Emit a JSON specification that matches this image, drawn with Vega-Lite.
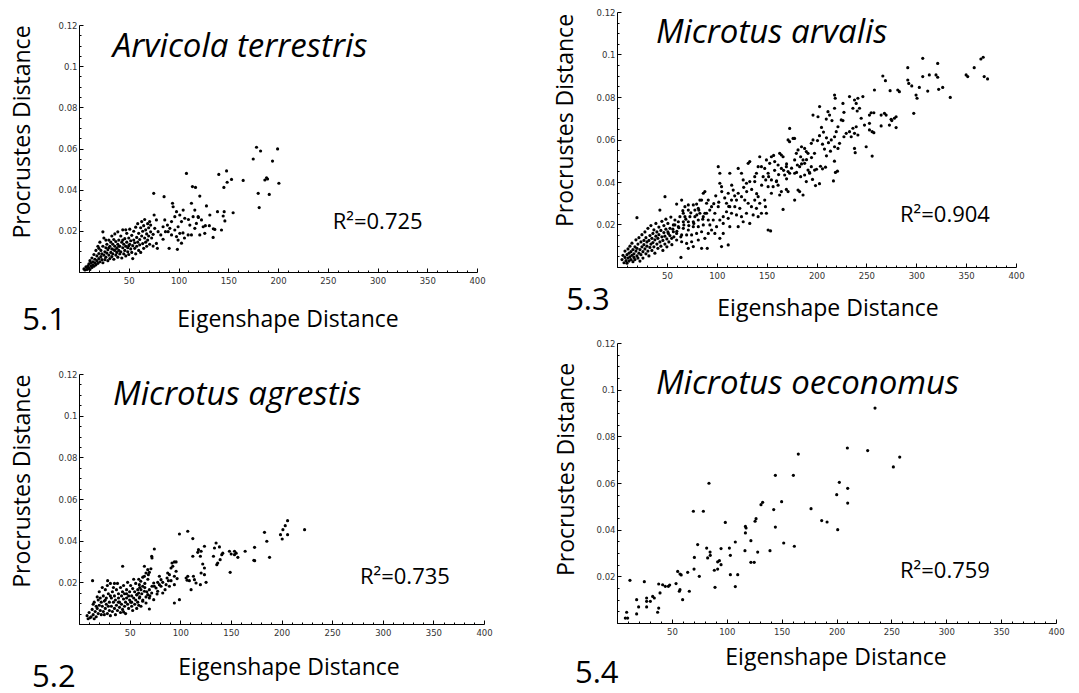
{
"$schema": "https://vega.github.io/schema/vega-lite/v6.json",
"background": "white",
"padding": {"left": 10, "top": 8, "right": 0, "bottom": 0},
"config": {
  "view": {"stroke": null},
  "axis": {"grid": false, "domainColor": "#000", "tickColor": "#000", "labelFont": "DejaVu Sans", "labelFontSize": 8.5, "labelColor": "#333", "titleFont": "Open Sans", "titleFontSize": 23, "titleFontWeight": "normal", "titleColor": "#000", "labelFlush": false, "labelOverlap": false}
},
"datasets": {
"d51": [
{"x":178.4,"y":0.0606},{"x":182.5,"y":0.0588},{"x":199.6,"y":0.0598},{"x":175.1,"y":0.0549},{"x":194.5,"y":0.0539},{"x":188.5,"y":0.0458},{"x":186.8,"y":0.0447},{"x":189.5,"y":0.0452},{"x":200.9,"y":0.0431},{"x":180.1,"y":0.0382},{"x":191.2,"y":0.0377},{"x":181.1,"y":0.0313},{"x":165,"y":0.0445},{"x":153.3,"y":0.045},{"x":148.3,"y":0.0491},{"x":140.5,"y":0.0474},{"x":148.9,"y":0.0436},{"x":145.6,"y":0.0411},{"x":154.9,"y":0.0288},{"x":145.9,"y":0.0293},{"x":144.9,"y":0.0272},{"x":146.6,"y":0.0248},{"x":143.2,"y":0.0204},{"x":134.8,"y":0.0168},{"x":136.5,"y":0.0207},{"x":139.2,"y":0.0293},{"x":131.5,"y":0.0277},{"x":128.1,"y":0.0321},{"x":121.4,"y":0.0369},{"x":114,"y":0.0415},{"x":117.1,"y":0.0411},{"x":108,"y":0.0479},{"x":113,"y":0.0334},{"x":116.4,"y":0.0301},{"x":119.7,"y":0.0269},{"x":123.1,"y":0.0253},{"x":124.8,"y":0.022},{"x":118,"y":0.0236},{"x":114.7,"y":0.0269},{"x":111.4,"y":0.0228},{"x":109.7,"y":0.018},{"x":113,"y":0.018},{"x":121.4,"y":0.018},{"x":126.4,"y":0.0188},{"x":116.4,"y":0.0212},{"x":104.7,"y":0.0301},{"x":101.3,"y":0.0277},{"x":106.3,"y":0.0261},{"x":103,"y":0.0245},{"x":99.6,"y":0.022},{"x":96.3,"y":0.0204},{"x":101.3,"y":0.0188},{"x":98,"y":0.0172},{"x":93,"y":0.018},{"x":99.6,"y":0.0155},{"x":96.3,"y":0.0269},{"x":98,"y":0.0293},{"x":94,"y":0.0334},{"x":94.6,"y":0.0317},{"x":93,"y":0.0245},{"x":91.3,"y":0.0212},{"x":89.6,"y":0.0196},{"x":88.9,"y":0.0228},{"x":86.2,"y":0.0253},{"x":84.5,"y":0.022},{"x":86.9,"y":0.0196},{"x":82.2,"y":0.018},{"x":84.5,"y":0.0159},{"x":90.6,"y":0.0115},{"x":98.9,"y":0.011},{"x":79.5,"y":0.0196},{"x":77.8,"y":0.0253},{"x":75.5,"y":0.0277},{"x":76.1,"y":0.0212},{"x":74.5,"y":0.0183},{"x":77.8,"y":0.0139},{"x":78.8,"y":0.0115},{"x":74.5,"y":0.0126},{"x":75.1,"y":0.0382},{"x":85.5,"y":0.0366},{"x":103,"y":0.014},{"x":106,"y":0.0165},{"x":104.5,"y":0.019},{"x":120,"y":0.0265},{"x":127,"y":0.0225},{"x":110,"y":0.0255},{"x":131,"y":0.0225},{"x":135,"y":0.021},
{"x":5,"y":0.0015},{"x":6,"y":0.001},{"x":7,"y":0.0025},{"x":8,"y":0.0012},{"x":9,"y":0.003},{"x":9,"y":0.0018},{"x":10,"y":0.004},{"x":10,"y":0.002},{"x":11,"y":0.0055},{"x":11,"y":0.0012},{"x":12,"y":0.003},{"x":12,"y":0.0045},{"x":13,"y":0.0022},{"x":13,"y":0.0068},{"x":14,"y":0.0035},{"x":14,"y":0.005},{"x":15,"y":0.0028},{"x":15,"y":0.0085},{"x":16,"y":0.0045},{"x":16,"y":0.0062},{"x":17,"y":0.0035},{"x":17,"y":0.0105},{"x":18,"y":0.0055},{"x":18,"y":0.0078},{"x":19,"y":0.0042},{"x":19,"y":0.0125},{"x":20,"y":0.0065},{"x":20,"y":0.009},{"x":21,"y":0.005},{"x":21,"y":0.0145},{"x":22,"y":0.0075},{"x":22,"y":0.0105},{"x":23,"y":0.006},{"x":23,"y":0.0088},{"x":24,"y":0.0125},{"x":24,"y":0.0045},{"x":25,"y":0.0165},{"x":25,"y":0.0082},{"x":26,"y":0.0098},{"x":26,"y":0.006},{"x":27,"y":0.0118},{"x":27,"y":0.0072},{"x":28,"y":0.0135},{"x":28,"y":0.0092},{"x":29,"y":0.0055},{"x":29,"y":0.0108},{"x":30,"y":0.0155},{"x":30,"y":0.0082},{"x":31,"y":0.0125},{"x":31,"y":0.0065},{"x":32,"y":0.0095},{"x":32,"y":0.0145},{"x":33,"y":0.0112},{"x":33,"y":0.0075},{"x":34,"y":0.0135},{"x":34,"y":0.0088},{"x":35,"y":0.0158},{"x":35,"y":0.0062},{"x":36,"y":0.0105},{"x":36,"y":0.0125},{"x":37,"y":0.0082},{"x":37,"y":0.0148},{"x":38,"y":0.0115},{"x":38,"y":0.0095},{"x":39,"y":0.0135},{"x":39,"y":0.0072},{"x":40,"y":0.0155},{"x":40,"y":0.0105},{"x":41,"y":0.0088},{"x":41,"y":0.0125},{"x":42,"y":0.0175},{"x":42,"y":0.0098},{"x":43,"y":0.0145},{"x":43,"y":0.0068},{"x":44,"y":0.0118},{"x":44,"y":0.0205},{"x":45,"y":0.0088},{"x":45,"y":0.0135},{"x":46,"y":0.0162},{"x":46,"y":0.0105},{"x":47,"y":0.0125},{"x":47,"y":0.0078},{"x":48,"y":0.0188},{"x":48,"y":0.0145},{"x":49,"y":0.0098},{"x":49,"y":0.0118},{"x":50,"y":0.0165},{"x":50,"y":0.0085},{"x":51,"y":0.0135},{"x":51,"y":0.0208},{"x":52,"y":0.0112},{"x":52,"y":0.0152},{"x":53,"y":0.0095},{"x":53,"y":0.0178},{"x":54,"y":0.0128},{"x":54,"y":0.0065},{"x":55,"y":0.0155},{"x":55,"y":0.0198},{"x":56,"y":0.0115},{"x":56,"y":0.0142},{"x":57,"y":0.0088},{"x":57,"y":0.0218},{"x":58,"y":0.0168},{"x":58,"y":0.0125},{"x":59,"y":0.0145},{"x":59,"y":0.0235},{"x":60,"y":0.0105},{"x":60,"y":0.0188},{"x":61,"y":0.0158},{"x":61,"y":0.0132},{"x":62,"y":0.0215},{"x":62,"y":0.0095},{"x":63,"y":0.0175},{"x":63,"y":0.0245},{"x":64,"y":0.0138},{"x":64,"y":0.0198},{"x":65,"y":0.0115},{"x":65,"y":0.0225},{"x":66,"y":0.0165},{"x":66,"y":0.0255},{"x":67,"y":0.0145},{"x":67,"y":0.0205},{"x":68,"y":0.0185},{"x":68,"y":0.0125},{"x":69,"y":0.0235},{"x":69,"y":0.0155},{"x":70,"y":0.0215},{"x":70,"y":0.0175},{"x":71,"y":0.0245},{"x":71,"y":0.0135},{"x":72,"y":0.0195},{"x":72,"y":0.0228},{"x":73,"y":0.0165},{"x":24,"y":0.0195},{"x":20,"y":0.0115},{"x":27,"y":0.0155},{"x":33,"y":0.0175},{"x":36,"y":0.0185},{"x":44,"y":0.0155},{"x":39,"y":0.0195},{"x":47,"y":0.0205},{"x":30,"y":0.0118},{"x":40,"y":0.0125},{"x":35,"y":0.0108},{"x":50,"y":0.0128}
],
"d52": [
{"x":206,"y":0.0496},{"x":203.7,"y":0.0472},{"x":201.4,"y":0.0453},{"x":200.7,"y":0.0408},{"x":199,"y":0.0429},{"x":206,"y":0.0429},{"x":222.8,"y":0.0453},{"x":183.2,"y":0.044},{"x":185.5,"y":0.0397},{"x":188.2,"y":0.032},{"x":173.4,"y":0.0368},{"x":172.7,"y":0.0306},{"x":173.5,"y":0.0304},{"x":164.1,"y":0.0349},{"x":153.6,"y":0.0349},{"x":155.2,"y":0.034},{"x":156.9,"y":0.032},{"x":153.6,"y":0.0333},{"x":148.6,"y":0.0349},{"x":150.3,"y":0.0336},{"x":149.3,"y":0.0248},{"x":135.4,"y":0.0389},{"x":133.8,"y":0.0365},{"x":138.7,"y":0.037},{"x":141,"y":0.0333},{"x":139.4,"y":0.0309},{"x":137,"y":0.0293},{"x":136.1,"y":0.0285},{"x":132.8,"y":0.0325},{"x":142,"y":0.034},{"x":123.9,"y":0.0373},{"x":120.6,"y":0.0349},{"x":119.9,"y":0.0325},{"x":122.2,"y":0.0288},{"x":123.9,"y":0.0269},{"x":120.6,"y":0.0245},{"x":123.9,"y":0.0237},{"x":125.5,"y":0.02},{"x":119.9,"y":0.0189},{"x":112.4,"y":0.041},{"x":112.4,"y":0.0325},{"x":118,"y":0.0357},{"x":117.3,"y":0.0344},{"x":107.4,"y":0.0445},{"x":99.2,"y":0.0432},{"x":107.4,"y":0.0229},{"x":109,"y":0.0208},{"x":113,"y":0.0229},{"x":114,"y":0.0213},{"x":115.6,"y":0.0197},{"x":110.7,"y":0.0165},{"x":105.8,"y":0.0221},{"x":106.8,"y":0.021},{"x":99.2,"y":0.0117},{"x":94.2,"y":0.0101},{"x":94.2,"y":0.0298},{"x":95.9,"y":0.0298},{"x":91.9,"y":0.0293},{"x":92.6,"y":0.0277},{"x":90.9,"y":0.0269},{"x":95.9,"y":0.0253},{"x":94.2,"y":0.0229},{"x":96.9,"y":0.0218},{"x":90.9,"y":0.0208},{"x":94.2,"y":0.0189},{"x":87.6,"y":0.0245},{"x":89.3,"y":0.0237},{"x":87,"y":0.0221},{"x":88.3,"y":0.0208},{"x":86,"y":0.0189},{"x":89.3,"y":0.0181},{"x":85,"y":0.0165},{"x":82.7,"y":0.0149},{"x":79.4,"y":0.0229},{"x":81,"y":0.0213},{"x":77.7,"y":0.02},{"x":79.4,"y":0.0189},{"x":76.1,"y":0.0173},{"x":77.7,"y":0.0157},{"x":74.4,"y":0.0181},{"x":77.1,"y":0.0144},{"x":81,"y":0.0181},{"x":82.7,"y":0.02},{"x":74.4,"y":0.036},{"x":71.8,"y":0.0325},{"x":72.1,"y":0.0317},{"x":67.9,"y":0.0261},{"x":66.2,"y":0.0245},{"x":69.5,"y":0.0248},{"x":68.5,"y":0.0237},{"x":64.6,"y":0.0229},{"x":64.6,"y":0.0277},{"x":73.8,"y":0.0197},{"x":72.1,"y":0.0181},{"x":69.5,"y":0.0165},{"x":71.8,"y":0.0149},{"x":67.9,"y":0.0141},{"x":66.2,"y":0.013},{"x":69.5,"y":0.0125},{"x":73.8,"y":0.0117},{"x":64.6,"y":0.0157},{"x":62.9,"y":0.0181},{"x":61.2,"y":0.0165},{"x":59.6,"y":0.0189},{"x":58.9,"y":0.0149},{"x":57.3,"y":0.0141},{"x":59.6,"y":0.0125},{"x":62.9,"y":0.0109},{"x":61.2,"y":0.0085},{"x":66.2,"y":0.0101},{"x":69.5,"y":0.0072},{"x":43.1,"y":0.0277},{"x":13.4,"y":0.0208},{"x":28.3,"y":0.0208},
{"x":8,"y":0.004},{"x":9,"y":0.0025},{"x":10,"y":0.0055},{"x":11,"y":0.003},{"x":12,"y":0.0035},{"x":13,"y":0.007},{"x":14,"y":0.0095},{"x":14,"y":0.0045},{"x":15,"y":0.0025},{"x":15,"y":0.0105},{"x":16,"y":0.006},{"x":17,"y":0.0085},{"x":17,"y":0.0035},{"x":18,"y":0.013},{"x":18,"y":0.0075},{"x":19,"y":0.005},{"x":19,"y":0.0115},{"x":20,"y":0.009},{"x":20,"y":0.0155},{"x":21,"y":0.0065},{"x":21,"y":0.0125},{"x":22,"y":0.0045},{"x":22,"y":0.0105},{"x":23,"y":0.0175},{"x":23,"y":0.0085},{"x":24,"y":0.0135},{"x":24,"y":0.006},{"x":25,"y":0.011},{"x":25,"y":0.0045},{"x":26,"y":0.0165},{"x":26,"y":0.0075},{"x":27,"y":0.0095},{"x":27,"y":0.0125},{"x":28,"y":0.005},{"x":28,"y":0.0185},{"x":29,"y":0.0085},{"x":29,"y":0.0145},{"x":30,"y":0.0065},{"x":30,"y":0.0105},{"x":31,"y":0.0195},{"x":31,"y":0.004},{"x":32,"y":0.0125},{"x":32,"y":0.0085},{"x":33,"y":0.0155},{"x":33,"y":0.006},{"x":34,"y":0.0105},{"x":34,"y":0.0175},{"x":35,"y":0.0075},{"x":35,"y":0.0135},{"x":36,"y":0.0045},{"x":36,"y":0.0115},{"x":37,"y":0.0165},{"x":37,"y":0.009},{"x":38,"y":0.0195},{"x":38,"y":0.0065},{"x":39,"y":0.0125},{"x":39,"y":0.0145},{"x":40,"y":0.008},{"x":40,"y":0.0105},{"x":41,"y":0.0175},{"x":41,"y":0.0055},{"x":42,"y":0.0135},{"x":42,"y":0.0095},{"x":43,"y":0.0155},{"x":43,"y":0.007},{"x":44,"y":0.012},{"x":44,"y":0.0185},{"x":45,"y":0.0085},{"x":45,"y":0.0145},{"x":46,"y":0.0105},{"x":46,"y":0.005},{"x":47,"y":0.0165},{"x":47,"y":0.0125},{"x":48,"y":0.0095},{"x":48,"y":0.02},{"x":49,"y":0.0135},{"x":49,"y":0.0075},{"x":50,"y":0.0115},{"x":50,"y":0.0155},{"x":51,"y":0.0105},{"x":51,"y":0.0185},{"x":52,"y":0.0085},{"x":52,"y":0.0135},{"x":53,"y":0.017},{"x":53,"y":0.0065},{"x":54,"y":0.0125},{"x":54,"y":0.0215},{"x":55,"y":0.0095},{"x":55,"y":0.0155},{"x":56,"y":0.0115},{"x":56,"y":0.0195},{"x":57,"y":0.0075},{"x":57,"y":0.014},{"x":58,"y":0.0165},{"x":58,"y":0.0105},{"x":59,"y":0.0215},{"x":59,"y":0.009},{"x":60,"y":0.013},{"x":60,"y":0.0175},{"x":61,"y":0.0205},{"x":62,"y":0.0145},{"x":63,"y":0.0115},{"x":63,"y":0.0225},{"x":65,"y":0.0175},{"x":65,"y":0.0195},{"x":67,"y":0.0155},{"x":68,"y":0.0215},{"x":70,"y":0.0135},{"x":71,"y":0.0265},{"x":44,"y":0.0058},{"x":26,"y":0.0115},{"x":35,"y":0.0195},{"x":52,"y":0.0105},{"x":47,"y":0.0145},{"x":39,"y":0.0105},{"x":31,"y":0.0135}
],
"d53": [
{"x":291.5,"y":0.0938},{"x":306.5,"y":0.0982},{"x":321.5,"y":0.0958},{"x":350,"y":0.0904},{"x":351.6,"y":0.0896},{"x":358.1,"y":0.0938},{"x":364.8,"y":0.0979},{"x":367.1,"y":0.0987},{"x":368.1,"y":0.0896},{"x":371.5,"y":0.0885},{"x":291.5,"y":0.088},{"x":292.5,"y":0.0864},{"x":295.5,"y":0.0852},{"x":306.5,"y":0.0896},{"x":303.1,"y":0.0845},{"x":311.5,"y":0.0828},{"x":313.1,"y":0.0904},{"x":319.8,"y":0.0904},{"x":321.5,"y":0.0893},{"x":322.5,"y":0.0836},{"x":326.5,"y":0.0845},{"x":334.1,"y":0.0798},{"x":299.8,"y":0.0809},{"x":300.8,"y":0.0794},{"x":297.5,"y":0.0723},{"x":266.5,"y":0.0899},{"x":269.1,"y":0.0877},{"x":258.1,"y":0.0833},{"x":273.8,"y":0.083},{"x":281.5,"y":0.0833},{"x":283.1,"y":0.0825},{"x":279.8,"y":0.0707},{"x":278.1,"y":0.07},{"x":274.8,"y":0.0695},{"x":275.5,"y":0.0689},{"x":273.1,"y":0.0668},{"x":279.8,"y":0.0656},{"x":264.8,"y":0.0664},{"x":268.1,"y":0.0723},{"x":269.8,"y":0.0715},{"x":264.8,"y":0.0715},
{"x":254.8,"y":0.0726},{"x":257.5,"y":0.0726},{"x":253.1,"y":0.0715},{"x":244.8,"y":0.07},{"x":248.1,"y":0.0668},{"x":253.1,"y":0.0676},{"x":253.1,"y":0.0645},{"x":255.8,"y":0.0637},{"x":257.5,"y":0.0632},{"x":249.8,"y":0.0566},{"x":255.8,"y":0.0522},{"x":246.5,"y":0.0802},{"x":241.5,"y":0.0794},{"x":238.1,"y":0.0786},{"x":239.8,"y":0.077},{"x":236.5,"y":0.0747},{"x":243.1,"y":0.0747},{"x":240.8,"y":0.0734},{"x":233.1,"y":0.0802},{"x":226.5,"y":0.077},{"x":227.5,"y":0.0728},{"x":218.1,"y":0.0747},{"x":224.8,"y":0.0692},{"x":226.5,"y":0.0689},{"x":218.1,"y":0.0809},{"x":218.8,"y":0.0794},{"x":203.1,"y":0.0755},{"x":196.5,"y":0.0715},{"x":201.5,"y":0.0707},{"x":211.5,"y":0.0731},{"x":213.1,"y":0.0715},{"x":209.8,"y":0.0696},{"x":215.5,"y":0.0689},{"x":236.5,"y":0.0653},{"x":239.8,"y":0.066},{"x":238.1,"y":0.0629},{"x":241.5,"y":0.0621},{"x":233.1,"y":0.0637},{"x":234.8,"y":0.0613},{"x":229.8,"y":0.0629},{"x":227.5,"y":0.0613},{"x":238.1,"y":0.0558},{"x":238.8,"y":0.0538},{"x":221.5,"y":0.066},{"x":219.8,"y":0.0637},{"x":218.1,"y":0.0613},{"x":214.8,"y":0.0598},{"x":223.1,"y":0.0582},{"x":218.1,"y":0.0566},{"x":221.5,"y":0.0558},{"x":205,"y":0.0657},{"x":207,"y":0.0635},{"x":203,"y":0.0618},{"x":210,"y":0.0608},{"x":212,"y":0.0585},{"x":206,"y":0.0578},{"x":201,"y":0.0595},{"x":208,"y":0.0555},{"x":214,"y":0.0545},{"x":210,"y":0.0523},{"x":218,"y":0.0498},{"x":219,"y":0.0445},{"x":221,"y":0.0451},{"x":217,"y":0.0405},{"x":204,"y":0.0474},{"x":206,"y":0.0462},{"x":200,"y":0.046},{"x":209,"y":0.047},{"x":203,"y":0.0392},{"x":199,"y":0.0383},{"x":196,"y":0.0412},{"x":193,"y":0.0445},
{"x":173.1,"y":0.0652},{"x":178,"y":0.0605},{"x":176.5,"y":0.0605},{"x":171.5,"y":0.0598},{"x":173,"y":0.059},{"x":185,"y":0.0566},{"x":188.1,"y":0.0558},{"x":194.8,"y":0.0582},{"x":196.5,"y":0.0598},{"x":189.8,"y":0.0543},{"x":191.5,"y":0.0535},{"x":181.5,"y":0.0551},{"x":179.8,"y":0.0535},{"x":184.1,"y":0.0519},{"x":186.5,"y":0.0504},{"x":188.1,"y":0.0488},{"x":164.8,"y":0.0527},{"x":166.5,"y":0.0519},{"x":163.1,"y":0.0535},{"x":158.1,"y":0.0496},{"x":161.5,"y":0.048},{"x":164.8,"y":0.0464},{"x":169.8,"y":0.0472},{"x":171.5,"y":0.0449},{"x":168.1,"y":0.0433},{"x":173.1,"y":0.0441},{"x":178.1,"y":0.0504},{"x":180.8,"y":0.048},{"x":183.1,"y":0.0472},{"x":178.1,"y":0.0441},{"x":184.1,"y":0.0425},{"x":188.1,"y":0.0433},{"x":191.5,"y":0.0456},{"x":193.1,"y":0.0441},{"x":194.8,"y":0.0472},{"x":198.1,"y":0.0456},{"x":189.8,"y":0.0402},{"x":183.1,"y":0.0355},{"x":186.5,"y":0.0339},{"x":181.5,"y":0.0362},{"x":178.1,"y":0.0315},{"x":171.5,"y":0.0355},{"x":169.8,"y":0.0365},{"x":166.5,"y":0.0271},{"x":161.5,"y":0.0385},{"x":159.8,"y":0.0402},{"x":154.8,"y":0.041},{"x":156.5,"y":0.0378},{"x":163.1,"y":0.0339},{"x":164.8,"y":0.0355},{"x":151.5,"y":0.0378},{"x":154.8,"y":0.0347},{"x":143.1,"y":0.0519},{"x":144.8,"y":0.0472},{"x":141.5,"y":0.0472},{"x":148.1,"y":0.0464},{"x":149.8,"y":0.0504},{"x":153.1,"y":0.0488},{"x":154.8,"y":0.0519},{"x":151.5,"y":0.0441},{"x":146.5,"y":0.0425},{"x":149.1,"y":0.041},{"x":151.5,"y":0.0174},{"x":154,"y":0.017},
{"x":101.5,"y":0.0472},{"x":103.1,"y":0.0441},{"x":103.1,"y":0.0394},{"x":104.8,"y":0.0378},{"x":113.1,"y":0.0441},{"x":121.5,"y":0.0464},{"x":124.8,"y":0.0441},{"x":131.5,"y":0.0488},{"x":133.1,"y":0.0496},{"x":126.5,"y":0.041},{"x":129.8,"y":0.0394},{"x":133.1,"y":0.0402},{"x":138.1,"y":0.0425},{"x":139.8,"y":0.0441},{"x":138.1,"y":0.0402},{"x":111.5,"y":0.0347},{"x":116.5,"y":0.0362},{"x":121.5,"y":0.0347},{"x":124.8,"y":0.0331},{"x":119.8,"y":0.0315},{"x":114.8,"y":0.0315},{"x":109.8,"y":0.03},{"x":113.1,"y":0.0284},{"x":118.1,"y":0.0284},{"x":123.1,"y":0.0276},{"x":128.1,"y":0.0315},{"x":131.5,"y":0.03},{"x":134.8,"y":0.0284},{"x":138.1,"y":0.0315},{"x":141.5,"y":0.0331},{"x":143.1,"y":0.03},{"x":139.8,"y":0.0276},{"x":148.1,"y":0.0315},{"x":148.8,"y":0.0284},{"x":149.8,"y":0.0253},{"x":144.8,"y":0.0253},{"x":136.5,"y":0.0245},{"x":129.8,"y":0.0253},{"x":124.8,"y":0.0237},{"x":119.8,"y":0.0245},{"x":114.8,"y":0.0253},{"x":109.8,"y":0.026},{"x":106.5,"y":0.0237},{"x":103.1,"y":0.0221},{"x":106.5,"y":0.0205},{"x":111.5,"y":0.0229},{"x":101.5,"y":0.0284},{"x":98.1,"y":0.0253},{"x":96.5,"y":0.0221},{"x":99.8,"y":0.019},{"x":98.1,"y":0.0158},{"x":94.8,"y":0.0174},{"x":93.1,"y":0.0198},{"x":91.5,"y":0.0221},{"x":89.8,"y":0.0253},{"x":94.8,"y":0.0284},{"x":104.8,"y":0.0096},{"x":111.5,"y":0.0104},{"x":141.5,"y":0.0237},{"x":133.1,"y":0.0205},{"x":126.5,"y":0.0213},{"x":121.5,"y":0.019},{"x":113.1,"y":0.019},{"x":106.5,"y":0.0158},{"x":103.1,"y":0.0135},
{"x":48.1,"y":0.0331},{"x":59.8,"y":0.0296},{"x":64.8,"y":0.0315},{"x":68.1,"y":0.0284},{"x":71.5,"y":0.0292},{"x":76.5,"y":0.0292},{"x":79.8,"y":0.0296},{"x":83.1,"y":0.0315},{"x":86.5,"y":0.0347},{"x":88.1,"y":0.0355},{"x":84.8,"y":0.0315},{"x":81.5,"y":0.0276},{"x":89.8,"y":0.03},{"x":91.5,"y":0.0315},{"x":78.1,"y":0.0268},{"x":71.5,"y":0.0268},{"x":66.5,"y":0.0253},{"x":63.1,"y":0.0237},{"x":68.1,"y":0.0237},{"x":73.1,"y":0.0237},{"x":78.1,"y":0.0237},{"x":83.1,"y":0.0253},{"x":86.5,"y":0.0237},{"x":88.1,"y":0.0253},{"x":81.5,"y":0.0221},{"x":76.5,"y":0.0213},{"x":71.5,"y":0.0213},{"x":66.5,"y":0.0213},{"x":61.5,"y":0.0213},{"x":58.1,"y":0.0221},{"x":56.5,"y":0.0198},{"x":61.5,"y":0.019},{"x":66.5,"y":0.0182},{"x":71.5,"y":0.0174},{"x":76.5,"y":0.019},{"x":81.5,"y":0.019},{"x":86.5,"y":0.0198},{"x":84.8,"y":0.0166},{"x":79.8,"y":0.0158},{"x":74.8,"y":0.0151},{"x":69.8,"y":0.0151},{"x":64.8,"y":0.0151},{"x":59.8,"y":0.0158},{"x":56.5,"y":0.0166},{"x":53.1,"y":0.0182},{"x":51.5,"y":0.0158},{"x":54.8,"y":0.0135},{"x":59.8,"y":0.0127},{"x":64.8,"y":0.0119},{"x":69.8,"y":0.0111},{"x":74.8,"y":0.0119},{"x":81.5,"y":0.0127},{"x":88.1,"y":0.0135},{"x":91.5,"y":0.0158},{"x":84.8,"y":0.0088},{"x":90.5,"y":0.0088},{"x":64.1,"y":0.0045},{"x":76.5,"y":0.0096},{"x":71.5,"y":0.0088},
{"x":5,"y":0.0035},{"x":6,"y":0.0055},{"x":7,"y":0.002},{"x":8,"y":0.0045},{"x":8,"y":0.0075},{"x":9,"y":0.003},{"x":10,"y":0.0058},{"x":10,"y":0.0018},{"x":11,"y":0.0042},{"x":11,"y":0.0085},{"x":12,"y":0.0028},{"x":12,"y":0.0065},{"x":13,"y":0.0048},{"x":13,"y":0.0098},{"x":14,"y":0.0035},{"x":14,"y":0.0072},{"x":15,"y":0.0055},{"x":15,"y":0.0112},{"x":16,"y":0.0025},{"x":16,"y":0.0082},{"x":17,"y":0.0045},{"x":17,"y":0.0062},{"x":18,"y":0.0095},{"x":18,"y":0.0035},{"x":19,"y":0.0075},{"x":19,"y":0.0128},{"x":20,"y":0.0052},{"x":20,"y":0.0232},{"x":20,"y":0.0088},{"x":21,"y":0.0042},{"x":21,"y":0.0108},{"x":22,"y":0.0065},{"x":22,"y":0.0138},{"x":23,"y":0.0082},{"x":23,"y":0.0028},{"x":24,"y":0.0118},{"x":24,"y":0.0058},{"x":25,"y":0.0095},{"x":25,"y":0.0152},{"x":26,"y":0.0072},{"x":26,"y":0.0042},{"x":27,"y":0.0125},{"x":27,"y":0.0105},{"x":28,"y":0.0085},{"x":28,"y":0.0165},{"x":29,"y":0.0062},{"x":29,"y":0.0138},{"x":30,"y":0.0098},{"x":30,"y":0.0118},{"x":31,"y":0.0075},{"x":31,"y":0.0182},{"x":32,"y":0.0125},{"x":32,"y":0.0052},{"x":33,"y":0.0148},{"x":33,"y":0.0092},{"x":34,"y":0.0108},{"x":34,"y":0.0195},{"x":35,"y":0.0078},{"x":35,"y":0.0135},{"x":36,"y":0.0158},{"x":36,"y":0.0115},{"x":37,"y":0.0095},{"x":37,"y":0.0175},{"x":38,"y":0.0128},{"x":38,"y":0.0065},{"x":39,"y":0.0145},{"x":39,"y":0.0205},{"x":40,"y":0.0108},{"x":40,"y":0.0165},{"x":41,"y":0.0088},{"x":41,"y":0.0135},{"x":42,"y":0.0188},{"x":42,"y":0.0152},{"x":43,"y":0.0268},{"x":43,"y":0.0118},{"x":44,"y":0.0172},{"x":44,"y":0.0098},{"x":45,"y":0.0142},{"x":45,"y":0.0215},{"x":46,"y":0.0125},{"x":46,"y":0.0078},{"x":47,"y":0.0162},{"x":47,"y":0.0195},{"x":48,"y":0.0108},{"x":48,"y":0.0145},{"x":49,"y":0.0178},{"x":49,"y":0.0225},{"x":50,"y":0.0132},{"x":50,"y":0.0095},{"x":51,"y":0.0165},{"x":51,"y":0.0205},{"x":52,"y":0.0118},{"x":53,"y":0.0148},{"x":54,"y":0.0235},{"x":55,"y":0.0105},{"x":56,"y":0.0178},{"x":57,"y":0.0142},{"x":58,"y":0.0198},{"x":60,"y":0.0168},{"x":62,"y":0.0185},{"x":64,"y":0.0142},{"x":66,"y":0.0265},{"x":67,"y":0.0198},{"x":69,"y":0.0225},{"x":72,"y":0.0195},{"x":74,"y":0.0255},{"x":77,"y":0.0205},{"x":80,"y":0.0245},{"x":82,"y":0.0268},{"x":86,"y":0.0225},{"x":93,"y":0.0268},{"x":97,"y":0.0298},{"x":99,"y":0.0335},{"x":102,"y":0.0305},{"x":105,"y":0.0355},{"x":108,"y":0.0325},{"x":112,"y":0.0285},{"x":115,"y":0.0385},{"x":118,"y":0.0335},{"x":127,"y":0.0375},{"x":130,"y":0.0355},{"x":135,"y":0.0365},{"x":140,"y":0.0345},{"x":145,"y":0.0385},{"x":152,"y":0.0425},{"x":158,"y":0.0455},{"x":162,"y":0.0435},{"x":167,"y":0.0455},{"x":170,"y":0.0415},{"x":175,"y":0.0465},{"x":180,"y":0.0445},{"x":185,"y":0.0485},{"x":190,"y":0.0505},{"x":195,"y":0.0515},{"x":198,"y":0.0535},{"x":170,"y":0.0485},{"x":160,"y":0.0405},{"x":157,"y":0.0525}
],
"d54": [
{"x":8.8,"y":0.0046},{"x":7.6,"y":0.0021},{"x":9.7,"y":0.0021},{"x":11.8,"y":0.0183},{"x":17.9,"y":0.01},{"x":19.7,"y":0.0069},{"x":17.9,"y":0.0039},{"x":24.9,"y":0.0177},{"x":27,"y":0.0107},{"x":27,"y":0.0093},{"x":27,"y":0.0069},{"x":30.4,"y":0.0093},{"x":32.5,"y":0.0114},{"x":34,"y":0.0107},{"x":38,"y":0.0167},{"x":39.2,"y":0.0129},{"x":38,"y":0.0064},{"x":37,"y":0.0046},{"x":41.6,"y":0.0164},{"x":44,"y":0.0157},{"x":46.8,"y":0.0157},{"x":48,"y":0.0163},{"x":53.8,"y":0.0169},{"x":55.3,"y":0.0221},{"x":57.4,"y":0.021},{"x":58.5,"y":0.0206},{"x":56.8,"y":0.0136},{"x":57.4,"y":0.0143},{"x":59.8,"y":0.01},{"x":64.4,"y":0.0217},{"x":65.9,"y":0.0136},{"x":69.6,"y":0.0479},{"x":70.2,"y":0.0231},{"x":70.5,"y":0.0281},{"x":73.5,"y":0.0336},{"x":75,"y":0.02},{"x":78.7,"y":0.0479},{"x":81.7,"y":0.0321},{"x":83.8,"y":0.0599},{"x":82.6,"y":0.0279},{"x":84.8,"y":0.0304},{"x":85,"y":0.029},{"x":88.7,"y":0.0226},{"x":91.7,"y":0.0231},{"x":89.3,"y":0.0153},{"x":93.3,"y":0.0267},{"x":94.8,"y":0.025},{"x":94.8,"y":0.0319},{"x":91.7,"y":0.0262},{"x":98.7,"y":0.0431},{"x":102.4,"y":0.0321},{"x":103.3,"y":0.029},{"x":103.3,"y":0.0207},{"x":107.8,"y":0.0347},{"x":107.8,"y":0.0156},{"x":110,"y":0.0207},{"x":117,"y":0.0386},{"x":117.6,"y":0.0407},{"x":117,"y":0.0414},{"x":116.6,"y":0.031},{"x":122,"y":0.0353},{"x":122,"y":0.026},{"x":125,"y":0.026},{"x":125.8,"y":0.0436},{"x":126.7,"y":0.0447},{"x":128.2,"y":0.0304},{"x":131.2,"y":0.0507},{"x":132.7,"y":0.0517},{"x":139.4,"y":0.031},{"x":142.8,"y":0.0486},{"x":144.3,"y":0.0633},{"x":144.3,"y":0.0411},{"x":150,"y":0.052},{"x":151.9,"y":0.0343},{"x":160.7,"y":0.0633},{"x":161.6,"y":0.0329},{"x":165.2,"y":0.0724},{"x":176.8,"y":0.049},{"x":186.5,"y":0.0439},{"x":191.4,"y":0.0433},{"x":200.2,"y":0.055},{"x":201.1,"y":0.04},{"x":202.6,"y":0.0603},{"x":209.9,"y":0.075},{"x":210.2,"y":0.0577},{"x":210.2,"y":0.0514},{"x":228.4,"y":0.0739},{"x":235.1,"y":0.0921},{"x":251.8,"y":0.0669},{"x":257.6,"y":0.0711}
]
},
"spacing": 60,
"hconcat": [
{
"bounds": "flush",
"spacing": 0,
"vconcat": [
{"width": 10, "height": 13, "data": {"values": [{"a": 1}]}, "mark": {"type": "point", "opacity": 0}},
{
"bounds": "flush",
"spacing": 102,
"vconcat": [
{
"width": 398, "height": 247,
"encoding": {
 "x": {"field": "x", "type": "quantitative", "scale": {"domain": [0, 400]}, "axis": {"values": [0,10,20,30,40,50,60,70,80,90,100,110,120,130,140,150,160,170,180,190,200,210,220,230,240,250,260,270,280,290,300,310,320,330,340,350,360,370,380,390,400], "format": "d", "labelExpr": "datum.value % 50 === 0 && datum.value > 0 ? datum.label : ''", "tickSize": {"condition": {"test": "datum.value % 50 === 0", "value": -4}, "value": -2}, "labelPadding": 8, "title": "Eigenshape Distance", "titleX": 208.5, "titleY": 54.7, "titleBaseline": "alphabetic"}},
 "y": {"field": "y", "type": "quantitative", "scale": {"domain": [0, 0.12]}, "axis": {"values": [0,0.005,0.01,0.015,0.02,0.025,0.03,0.035,0.04,0.045,0.05,0.055,0.06,0.065,0.07,0.075,0.08,0.085,0.09,0.095,0.1,0.105,0.11,0.115,0.12], "format": "~g", "labelExpr": "datum.value > 0.001 && abs(datum.value*50 - round(datum.value*50)) < 0.000001 ? datum.label : ''", "tickSize": {"condition": {"test": "abs(datum.value*50 - round(datum.value*50)) < 0.000001", "value": -4}, "value": -2}, "labelPadding": 6, "title": "Procrustes Distance", "titleX": -50, "titleY": 106.5, "titleBaseline": "alphabetic"}}
},
"layer": [
 {"data": {"name": "d51"}, "mark": {"type": "circle", "size": 10, "color": "#000", "opacity": 1}},
 {"data": {"values": [{"x": 34, "y": 0.1045, "t": "Arvicola terrestris"}]}, "mark": {"type": "text", "align": "left", "baseline": "alphabetic", "font": "Open Sans", "fontStyle": "italic", "fontSize": 33, "color": "#000"}, "encoding": {"text": {"field": "t"}}},
 {"data": {"values": [{"x": 255, "y": 0.0209, "t": "R²=0.725"}]}, "mark": {"type": "text", "align": "left", "baseline": "alphabetic", "font": "Open Sans", "fontSize": 22, "color": "#000"}, "encoding": {"text": {"field": "t"}}},
 {"data": {"values": [{"x": -57, "y": -0.0282, "t": "5.1"}]}, "mark": {"type": "text", "align": "left", "baseline": "alphabetic", "font": "Open Sans", "fontSize": 31, "color": "#000"}, "encoding": {"text": {"field": "t"}}}
]
},
{
"width": 405, "height": 250,
"encoding": {
 "x": {"field": "x", "type": "quantitative", "scale": {"domain": [0, 400]}, "axis": {"values": [0,10,20,30,40,50,60,70,80,90,100,110,120,130,140,150,160,170,180,190,200,210,220,230,240,250,260,270,280,290,300,310,320,330,340,350,360,370,380,390,400], "format": "d", "labelExpr": "datum.value % 50 === 0 && datum.value > 0 ? datum.label : ''", "tickSize": {"condition": {"test": "datum.value % 50 === 0", "value": -4}, "value": -2}, "labelPadding": 8, "title": "Eigenshape Distance", "titleX": 209.5, "titleY": 50.7, "titleBaseline": "alphabetic"}},
 "y": {"field": "y", "type": "quantitative", "scale": {"domain": [0, 0.12]}, "axis": {"values": [0,0.005,0.01,0.015,0.02,0.025,0.03,0.035,0.04,0.045,0.05,0.055,0.06,0.065,0.07,0.075,0.08,0.085,0.09,0.095,0.1,0.105,0.11,0.115,0.12], "format": "~g", "labelExpr": "datum.value > 0.001 && abs(datum.value*50 - round(datum.value*50)) < 0.000001 ? datum.label : ''", "tickSize": {"condition": {"test": "abs(datum.value*50 - round(datum.value*50)) < 0.000001", "value": -4}, "value": -2}, "labelPadding": 6, "title": "Procrustes Distance", "titleX": -50, "titleY": 106.7, "titleBaseline": "alphabetic"}}
},
"layer": [
 {"data": {"name": "d52"}, "mark": {"type": "circle", "size": 10, "color": "#000", "opacity": 1}},
 {"data": {"values": [{"x": 33.6, "y": 0.1053, "t": "Microtus agrestis"}]}, "mark": {"type": "text", "align": "left", "baseline": "alphabetic", "font": "Open Sans", "fontStyle": "italic", "fontSize": 33, "color": "#000"}, "encoding": {"text": {"field": "t"}}},
 {"data": {"values": [{"x": 277.5, "y": 0.0192, "t": "R²=0.735"}]}, "mark": {"type": "text", "align": "left", "baseline": "alphabetic", "font": "Open Sans", "fontSize": 22, "color": "#000"}, "encoding": {"text": {"field": "t"}}},
 {"data": {"values": [{"x": -46.4, "y": -0.0301, "t": "5.2"}]}, "mark": {"type": "text", "align": "left", "baseline": "alphabetic", "font": "Open Sans", "fontSize": 31, "color": "#000"}, "encoding": {"text": {"field": "t"}}}
]
}
]
}
]
},
{
"bounds": "flush",
"spacing": 76,
"vconcat": [
{
"width": 399, "height": 255,
"encoding": {
 "x": {"field": "x", "type": "quantitative", "scale": {"domain": [0, 400]}, "axis": {"values": [0,10,20,30,40,50,60,70,80,90,100,110,120,130,140,150,160,170,180,190,200,210,220,230,240,250,260,270,280,290,300,310,320,330,340,350,360,370,380,390,400], "format": "d", "labelExpr": "datum.value % 50 === 0 && datum.value > 0 ? datum.label : ''", "tickSize": {"condition": {"test": "datum.value % 50 === 0", "value": -4}, "value": -2}, "labelPadding": 8, "title": "Eigenshape Distance", "titleX": 210.5, "titleY": 48, "titleBaseline": "alphabetic"}},
 "y": {"field": "y", "type": "quantitative", "scale": {"domain": [0, 0.12]}, "axis": {"values": [0,0.005,0.01,0.015,0.02,0.025,0.03,0.035,0.04,0.045,0.05,0.055,0.06,0.065,0.07,0.075,0.08,0.085,0.09,0.095,0.1,0.105,0.11,0.115,0.12], "format": "~g", "labelExpr": "datum.value > 0.001 && abs(datum.value*50 - round(datum.value*50)) < 0.000001 ? datum.label : ''", "tickSize": {"condition": {"test": "abs(datum.value*50 - round(datum.value*50)) < 0.000001", "value": -4}, "value": -2}, "labelPadding": 6, "title": "Procrustes Distance", "titleX": -45, "titleY": 108, "titleBaseline": "alphabetic"}}
},
"layer": [
 {"data": {"name": "d53"}, "mark": {"type": "circle", "size": 10, "color": "#000", "opacity": 1}},
 {"data": {"values": [{"x": 39, "y": 0.1054, "t": "Microtus arvalis"}]}, "mark": {"type": "text", "align": "left", "baseline": "alphabetic", "font": "Open Sans", "fontStyle": "italic", "fontSize": 33, "color": "#000"}, "encoding": {"text": {"field": "t"}}},
 {"data": {"values": [{"x": 283.7, "y": 0.0212, "t": "R²=0.904"}]}, "mark": {"type": "text", "align": "left", "baseline": "alphabetic", "font": "Open Sans", "fontSize": 22, "color": "#000"}, "encoding": {"text": {"field": "t"}}},
 {"data": {"values": [{"x": -51, "y": -0.0202, "t": "5.3"}]}, "mark": {"type": "text", "align": "left", "baseline": "alphabetic", "font": "Open Sans", "fontSize": 31, "color": "#000"}, "encoding": {"text": {"field": "t"}}}
]
},
{
"width": 439, "height": 280,
"encoding": {
 "x": {"field": "x", "type": "quantitative", "scale": {"domain": [0, 400]}, "axis": {"values": [0,10,20,30,40,50,60,70,80,90,100,110,120,130,140,150,160,170,180,190,200,210,220,230,240,250,260,270,280,290,300,310,320,330,340,350,360,370,380,390,400], "format": "d", "labelExpr": "datum.value % 50 === 0 && datum.value > 0 ? datum.label : ''", "tickSize": {"condition": {"test": "datum.value % 50 === 0", "value": -4}, "value": -2}, "labelPadding": 8, "title": "Eigenshape Distance", "titleX": 218.5, "titleY": 41.7, "titleBaseline": "alphabetic"}},
 "y": {"field": "y", "type": "quantitative", "scale": {"domain": [0, 0.12]}, "axis": {"values": [0,0.005,0.01,0.015,0.02,0.025,0.03,0.035,0.04,0.045,0.05,0.055,0.06,0.065,0.07,0.075,0.08,0.085,0.09,0.095,0.1,0.105,0.11,0.115,0.12], "format": "~g", "labelExpr": "datum.value > 0.001 && abs(datum.value*50 - round(datum.value*50)) < 0.000001 ? datum.label : ''", "tickSize": {"condition": {"test": "abs(datum.value*50 - round(datum.value*50)) < 0.000001", "value": -4}, "value": -2}, "labelPadding": 6, "title": "Procrustes Distance", "titleX": -44, "titleY": 126, "titleBaseline": "alphabetic"}}
},
"layer": [
 {"data": {"name": "d54"}, "mark": {"type": "circle", "size": 10, "color": "#000", "opacity": 1}},
 {"data": {"values": [{"x": 35.5, "y": 0.0983, "t": "Microtus oeconomus"}]}, "mark": {"type": "text", "align": "left", "baseline": "alphabetic", "font": "Open Sans", "fontStyle": "italic", "fontSize": 33, "color": "#000"}, "encoding": {"text": {"field": "t"}}},
 {"data": {"values": [{"x": 257.9, "y": 0.0193, "t": "R²=0.759"}]}, "mark": {"type": "text", "align": "left", "baseline": "alphabetic", "font": "Open Sans", "fontSize": 22, "color": "#000"}, "encoding": {"text": {"field": "t"}}},
 {"data": {"values": [{"x": -38.3, "y": -0.0256, "t": "5.4"}]}, "mark": {"type": "text", "align": "left", "baseline": "alphabetic", "font": "Open Sans", "fontSize": 31, "color": "#000"}, "encoding": {"text": {"field": "t"}}}
]
}
]
}
]
}
